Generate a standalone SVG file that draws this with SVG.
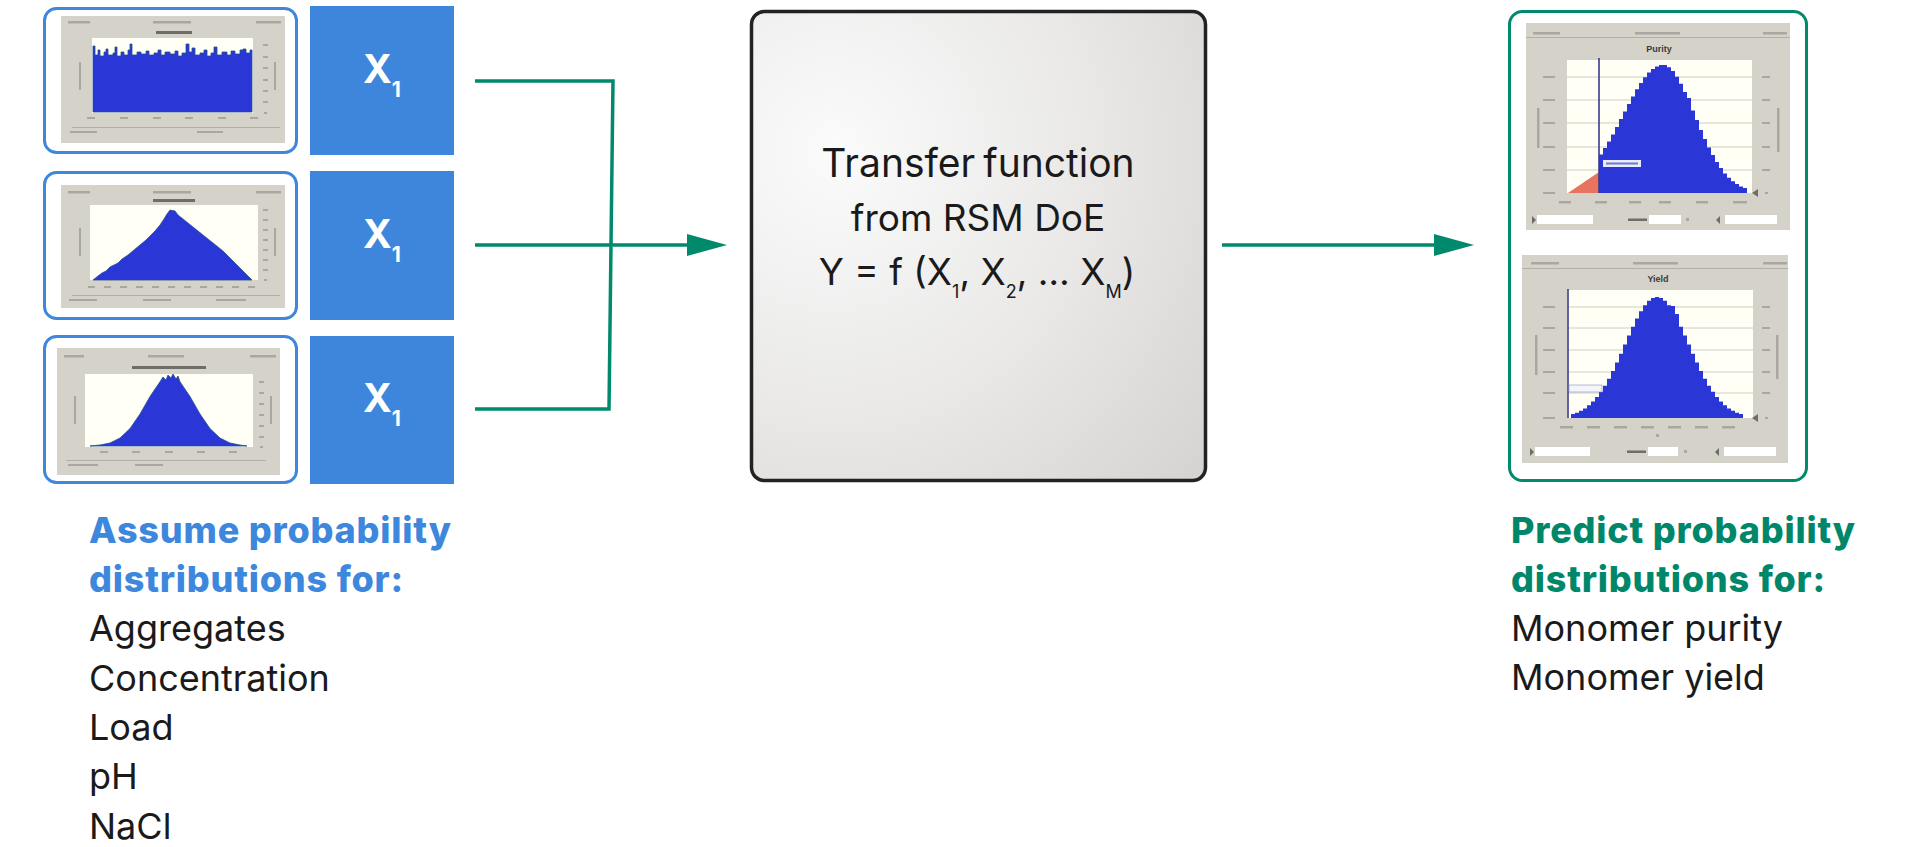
<svg xmlns="http://www.w3.org/2000/svg" width="1920" height="847" viewBox="0 0 1920 847">
  <defs>
    <radialGradient id="boxGrad" cx="0.18" cy="0.3" r="1.05" fx="0.18" fy="0.3">
      <stop offset="0" stop-color="#fbfbfb"/>
      <stop offset="0.55" stop-color="#e9e8e7"/>
      <stop offset="1" stop-color="#d6d4d3"/>
    </radialGradient>
    <marker id="arrow" markerUnits="userSpaceOnUse" markerWidth="40" markerHeight="22" refX="3" refY="11" orient="auto">
      <path d="M0,0 L40,11 L0,22 Z" fill="#00896b"/>
    </marker>
  </defs>
  <style>
    .frameB { fill: #ffffff; stroke: #3f87dd; stroke-width: 3; }
    .frameG { fill: #ffffff; stroke: #00896b; stroke-width: 3; }
    .sq { fill: #3e86db; }
    .xlab { font-family: "Inter", "Liberation Sans", sans-serif; font-weight: 700; fill: #ffffff; }
    .panel { fill: #d5d2ca; }
    .plot { fill: #fffff6; }
    .hist { fill: #2a36d6; }
    .histE { fill: #2a36d6; stroke: #24508a; stroke-width: 0.8; }
    .lbl { fill: #a9a79f; }
    .dk { fill: #6f6d68; }
    .grid { stroke: #c4c2b6; stroke-width: 0.8; fill: none; }
    .inp { fill: #ffffff; }
    .conn { fill: none; stroke: #00896b; stroke-width: 3.5; }
    .body { font-family: "Inter", "Liberation Sans", sans-serif; font-size: 36px; fill: #1a1a1a; }
    .headB { font-family: "Inter", "Liberation Sans", sans-serif; font-size: 36px; font-weight: 800; letter-spacing: 0.8px; fill: #3d87dc; }
    .headG { font-family: "Inter", "Liberation Sans", sans-serif; font-size: 36px; font-weight: 800; letter-spacing: 0.8px; fill: #00876a; }
    .ctr { font-family: "Inter", "Liberation Sans", sans-serif; font-size: 37px; fill: #1a1a1a; }
    .ctr1 { font-size: 39px; word-spacing: -3px; }
    .ctitle { font-family: "Liberation Sans", sans-serif; font-size: 9px; font-weight: 700; fill: #3a3a3a; }
  </style>

  <!-- Input distribution 1 -->
  <g id="input-chart-1">
    <rect class="frameB" x="44.5" y="8.5" width="252" height="144" rx="12"/>
    <rect class="panel" x="61" y="16" width="224" height="127"/>
    <rect class="lbl" x="68" y="21" width="22" height="2.5"/>
    <rect class="lbl" x="153" y="21" width="38" height="2.5"/>
    <rect class="lbl" x="256" y="21" width="25" height="2.5"/>
    <rect class="dk" x="156" y="31" width="36" height="3"/>
    <rect class="plot" x="92" y="38" width="161" height="75"/>
    <path class="histE" d="M93,112 V46 H95 V55 H98 V50 H100 V56 H104 V52 H106 V49 H108 V55 H113 V53 H115 V47 H117 V56 H121 V52 H124 V55 H128 V50 H130 V44 H132 V55 H137 V52 H141 V54 H146 V51 H149 V55 H154 V53 H158 V50 H161 V55 H165 V52 H170 V54 H175 V51 H178 V56 H182 V53 H186 V44 H189 V52 H192 V48 H195 V55 H200 V53 H204 V50 H207 V56 H211 V53 H214 V47 H217 V55 H222 V52 H227 V55 H231 V51 H235 V54 H240 V50 H243 V49 H246 V53 H250 V50 H252 V112 Z"/>
    <rect class="lbl" x="79" y="62" width="2" height="28"/>
    <rect class="lbl" x="274" y="62" width="2" height="28"/>
    <rect class="lbl" x="263" y="44" width="5" height="2"/>
    <rect class="lbl" x="263" y="56" width="5" height="2"/>
    <rect class="lbl" x="263" y="67" width="5" height="2"/>
    <rect class="lbl" x="263" y="79" width="5" height="2"/>
    <rect class="lbl" x="263" y="90" width="5" height="2"/>
    <rect class="lbl" x="263" y="101" width="5" height="2"/>
    <rect class="lbl" x="264" y="112" width="3" height="2"/>
    <rect class="lbl" x="87" y="117" width="8" height="2"/>
    <rect class="lbl" x="120" y="117" width="8" height="2"/>
    <rect class="lbl" x="153" y="117" width="8" height="2"/>
    <rect class="lbl" x="185" y="117" width="8" height="2"/>
    <rect class="lbl" x="218" y="117" width="8" height="2"/>
    <rect class="lbl" x="250" y="117" width="8" height="2"/>
    <rect class="lbl" x="72" y="127" width="208" height="0.8"/>
    <rect class="lbl" x="70" y="131" width="27" height="2"/>
    <rect class="lbl" x="197" y="131" width="26" height="2"/>
  </g>

  <!-- Input distribution 2 -->
  <g id="input-chart-2">
    <rect class="frameB" x="44.5" y="172.5" width="252" height="146" rx="12"/>
    <rect class="panel" x="61" y="185" width="224" height="123"/>
    <rect class="lbl" x="68" y="191" width="22" height="2.5"/>
    <rect class="lbl" x="153" y="191" width="38" height="2.5"/>
    <rect class="lbl" x="256" y="191" width="25" height="2.5"/>
    <rect class="dk" x="153" y="199" width="42" height="3"/>
    <rect class="plot" x="90" y="205" width="168" height="75"/>
    <path class="histE" d="M93,280 L98,276 L102,273 L106,271 L110,267 L114,265 L118,263 L122,259 L128,255 L134,250 L140,245 L146,240 L150,236 L155,231 L160,225 L164,219 L167,214 L170,210 L175,211 L178,215 L183,219 L188,223 L193,227 L198,231 L203,235 L208,239 L213,243 L218,247 L223,251 L228,256 L233,261 L238,266 L243,271 L248,276 L252,280 Z"/>
    <rect class="lbl" x="79" y="228" width="2" height="28"/>
    <rect class="lbl" x="274" y="228" width="2" height="28"/>
    <rect class="lbl" x="263" y="209" width="5" height="2"/>
    <rect class="lbl" x="263" y="219" width="5" height="2"/>
    <rect class="lbl" x="263" y="229" width="5" height="2"/>
    <rect class="lbl" x="263" y="239" width="5" height="2"/>
    <rect class="lbl" x="263" y="249" width="5" height="2"/>
    <rect class="lbl" x="263" y="259" width="5" height="2"/>
    <rect class="lbl" x="263" y="269" width="5" height="2"/>
    <rect class="lbl" x="264" y="279" width="3" height="2"/>
    <rect class="lbl" x="88" y="286" width="7" height="2"/>
    <rect class="lbl" x="104" y="286" width="7" height="2"/>
    <rect class="lbl" x="120" y="286" width="7" height="2"/>
    <rect class="lbl" x="136" y="286" width="7" height="2"/>
    <rect class="lbl" x="152" y="286" width="7" height="2"/>
    <rect class="lbl" x="168" y="286" width="7" height="2"/>
    <rect class="lbl" x="184" y="286" width="7" height="2"/>
    <rect class="lbl" x="200" y="286" width="7" height="2"/>
    <rect class="lbl" x="216" y="286" width="7" height="2"/>
    <rect class="lbl" x="232" y="286" width="7" height="2"/>
    <rect class="lbl" x="248" y="286" width="7" height="2"/>
    <rect class="lbl" x="72" y="295" width="208" height="0.8"/>
    <rect class="lbl" x="69" y="299" width="28" height="2"/>
    <rect class="lbl" x="143" y="299" width="28" height="2"/>
    <rect class="lbl" x="216" y="299" width="30" height="2"/>
  </g>

  <!-- Input distribution 3 -->
  <g id="input-chart-3">
    <rect class="frameB" x="44.5" y="336.5" width="252" height="146" rx="12"/>
    <rect class="panel" x="57" y="348" width="223" height="127"/>
    <rect class="lbl" x="64" y="355" width="20" height="2.5"/>
    <rect class="lbl" x="148" y="355" width="36" height="2.5"/>
    <rect class="lbl" x="250" y="355" width="26" height="2.5"/>
    <rect class="dk" x="132" y="366" width="74" height="3"/>
    <rect class="plot" x="85" y="374" width="168" height="73"/>
    <path class="histE" d="M90,446 L100,445 L110,443 L120,438 L130,428.6 L140,414 L150,396.5 L155,389 L160,381.8 L163,377 L166,380 L168,375 L171,378 L173,374 L176,379 L178,376 L180,381.8 L190,396.5 L200,414 L210,428.6 L220,438 L230,443 L240,445 L247,446 Z"/>
    <rect class="lbl" x="74" y="396" width="2" height="28"/>
    <rect class="lbl" x="270" y="396" width="2" height="28"/>
    <rect class="lbl" x="259" y="381" width="5" height="2"/>
    <rect class="lbl" x="259" y="392" width="5" height="2"/>
    <rect class="lbl" x="259" y="403" width="5" height="2"/>
    <rect class="lbl" x="259" y="414" width="5" height="2"/>
    <rect class="lbl" x="259" y="425" width="5" height="2"/>
    <rect class="lbl" x="259" y="436" width="5" height="2"/>
    <rect class="lbl" x="260" y="446" width="3" height="2"/>
    <rect class="lbl" x="100" y="451" width="8" height="2"/>
    <rect class="lbl" x="132" y="451" width="8" height="2"/>
    <rect class="lbl" x="165" y="451" width="8" height="2"/>
    <rect class="lbl" x="197" y="451" width="8" height="2"/>
    <rect class="lbl" x="229" y="451" width="8" height="2"/>
    <rect class="lbl" x="66" y="460" width="200" height="0.8"/>
    <rect class="lbl" x="68" y="464" width="30" height="2"/>
    <rect class="lbl" x="135" y="464" width="28" height="2"/>
  </g>

  <!-- X1 boxes -->
  <g id="x1-box-1">
    <rect class="sq" x="310" y="6" width="144" height="149"/>
    <text class="xlab" x="382" y="83" text-anchor="middle" font-size="39">X<tspan font-size="21" dy="14">1</tspan></text>
  </g>
  <g id="x1-box-2">
    <rect class="sq" x="310" y="171" width="144" height="149"/>
    <text class="xlab" x="382" y="248" text-anchor="middle" font-size="39">X<tspan font-size="21" dy="14">1</tspan></text>
  </g>
  <g id="x1-box-3">
    <rect class="sq" x="310" y="336" width="144" height="148"/>
    <text class="xlab" x="382" y="412" text-anchor="middle" font-size="39">X<tspan font-size="21" dy="14">1</tspan></text>
  </g>

  <!-- Transfer function -->
  <g id="transfer-function">
    <rect x="751.5" y="11.5" width="454" height="469" rx="13" fill="url(#boxGrad)" stroke="#222222" stroke-width="3.5"/>
    <text class="ctr ctr1" x="978" y="177" text-anchor="middle">Transfer function</text>
    <text class="ctr" x="978" y="231" text-anchor="middle">from RSM DoE</text>
    <text class="ctr" x="977" y="285" text-anchor="middle">Y = f (X<tspan font-size="18" dy="13">1</tspan><tspan dy="-13">, X</tspan><tspan font-size="18" dy="13">2</tspan><tspan dy="-13">, … X</tspan><tspan font-size="18" dy="13">M</tspan><tspan dy="-13">)</tspan></text>
  </g>

  <!-- Output distributions -->
  <g id="output-charts">
    <rect class="frameG" x="1509.5" y="11.5" width="297" height="469" rx="13"/>
    <!-- Purity -->
    <rect class="panel" x="1526" y="23" width="264" height="207"/>
    <rect class="lbl" x="1533" y="32" width="27" height="2.5"/>
    <rect class="lbl" x="1635" y="32" width="45" height="2.5"/>
    <rect class="lbl" x="1763" y="32" width="24" height="2.5"/>
    <rect class="lbl" x="1526" y="37" width="264" height="0.8"/>
    <text class="ctitle" x="1659" y="52" text-anchor="middle">Purity</text>
    <rect class="plot" x="1567" y="60" width="185" height="133"/>
    <path class="grid" d="M1567,77 H1752 M1567,100 H1752 M1567,123 H1752 M1567,147 H1752 M1567,170 H1752"/>
    <polygon points="1568,193 1599,172 1599,193" fill="#e8735e"/>
    <path class="hist" d="M1599,193 V154.5 H1603 V148 H1607 V141.5 H1611 V134.4 H1615 V127 H1619 V119 H1623 V111.5 H1627 V104 H1631 V96.4 H1635 V89.3 H1639 V83 H1643 V77.3 H1647 V72.6 H1651 V69 H1655 V66.4 H1659 V65 H1667 V67.2 H1671 V71 H1675 V76.7 H1679 V83.7 H1683 V92 H1687 V98 H1691 V110.5 H1695 V120 H1699 V130 H1703 V139 H1707 V147.4 H1711 V155 H1715 V162 H1719 V168 H1723 V173.4 H1727 V177.7 H1731 V181.3 H1735 V184 H1739 V186.4 H1743 V188 H1747 V193 Z"/>
    <line x1="1599" y1="58" x2="1599" y2="193" stroke="#3a3a8c" stroke-width="1.6"/>
    <rect x="1603" y="160" width="38" height="7" fill="#ffffff" opacity="0.9"/>
    <rect x="1606" y="162.5" width="32" height="2" fill="#6a78d8"/>
    <rect class="lbl" x="1543" y="76" width="12" height="2"/>
    <rect class="lbl" x="1543" y="99" width="12" height="2"/>
    <rect class="lbl" x="1543" y="122" width="12" height="2"/>
    <rect class="lbl" x="1543" y="146" width="12" height="2"/>
    <rect class="lbl" x="1543" y="169" width="12" height="2"/>
    <rect class="lbl" x="1543" y="192" width="12" height="2"/>
    <rect class="lbl" x="1762" y="76" width="8" height="2"/>
    <rect class="lbl" x="1762" y="99" width="8" height="2"/>
    <rect class="lbl" x="1762" y="122" width="8" height="2"/>
    <rect class="lbl" x="1762" y="146" width="8" height="2"/>
    <rect class="lbl" x="1762" y="169" width="8" height="2"/>
    <rect class="lbl" x="1765" y="192" width="3" height="2"/>
    <rect class="lbl" x="1537" y="108" width="2.5" height="40"/>
    <rect class="lbl" x="1777" y="108" width="2.5" height="44"/>
    <polygon points="1752,193 1758,189 1758,197" class="dk"/>
    <rect class="lbl" x="1559" y="201" width="12" height="2.5"/>
    <rect class="lbl" x="1595" y="201" width="12" height="2.5"/>
    <rect class="lbl" x="1629" y="201" width="12" height="2.5"/>
    <rect class="lbl" x="1659" y="201" width="12" height="2.5"/>
    <rect class="lbl" x="1696" y="201" width="12" height="2.5"/>
    <rect class="lbl" x="1733" y="201" width="14" height="2.5"/>
    <polygon points="1532,216 1536,220 1532,224" class="dk"/>
    <rect class="inp" x="1537" y="215" width="56" height="9"/>
    <rect class="dk" x="1628" y="218.5" width="19" height="2.5"/>
    <rect class="inp" x="1649" y="215" width="32" height="9"/>
    <rect class="lbl" x="1686" y="218" width="3" height="3"/>
    <polygon points="1720,216 1716,220 1720,224" class="dk"/>
    <rect class="inp" x="1725" y="215" width="52" height="9"/>
    <!-- Yield -->
    <rect class="panel" x="1522" y="255" width="266" height="208"/>
    <rect class="lbl" x="1531" y="262" width="28" height="2.5"/>
    <rect class="lbl" x="1633" y="262" width="45" height="2.5"/>
    <rect class="lbl" x="1763" y="262" width="24" height="2.5"/>
    <rect class="lbl" x="1522" y="268" width="266" height="0.8"/>
    <text class="ctitle" x="1658" y="282" text-anchor="middle">Yield</text>
    <rect class="plot" x="1567" y="290" width="186" height="128"/>
    <path class="grid" d="M1567,307 H1753 M1567,328 H1753 M1567,350 H1753 M1567,372 H1753 M1567,393 H1753"/>
    <path class="hist" d="M1571,418 V414 H1575 V412.7 H1579 V410.8 H1583 V408.4 H1587 V405.3 H1591 V401.6 H1595 V397 H1599 V391.8 H1603 V385.7 H1607 V378.7 H1611 V371 H1615 V362.6 H1619 V353.7 H1623 V344.6 H1627 V335.5 H1631 V326.7 H1635 V318.5 H1639 V311.2 H1643 V305.2 H1647 V300.7 H1651 V298 H1655 V297 H1659 V298 H1663 V300.7 H1667 V305.2 H1671 V306 H1675 V314 H1679 V326.7 H1683 V335.5 H1687 V344.6 H1691 V353.7 H1695 V362.6 H1699 V371 H1703 V378.7 H1707 V385.7 H1711 V391.8 H1715 V397 H1719 V401.6 H1723 V405.3 H1727 V408.4 H1731 V410.8 H1735 V412.7 H1739 V414 H1743 V418 Z"/>
    <line x1="1568" y1="289" x2="1568" y2="418" stroke="#3a3a8c" stroke-width="1.6"/>
    <rect x="1569" y="385" width="33" height="7" fill="#f4f4ff" stroke="#8a8ab8" stroke-width="0.6"/>
    <rect class="lbl" x="1543" y="306" width="12" height="2"/>
    <rect class="lbl" x="1543" y="327" width="12" height="2"/>
    <rect class="lbl" x="1543" y="349" width="12" height="2"/>
    <rect class="lbl" x="1543" y="371" width="12" height="2"/>
    <rect class="lbl" x="1543" y="392" width="12" height="2"/>
    <rect class="lbl" x="1543" y="417" width="12" height="2"/>
    <rect class="lbl" x="1762" y="306" width="8" height="2"/>
    <rect class="lbl" x="1762" y="327" width="8" height="2"/>
    <rect class="lbl" x="1762" y="349" width="8" height="2"/>
    <rect class="lbl" x="1762" y="371" width="8" height="2"/>
    <rect class="lbl" x="1762" y="392" width="8" height="2"/>
    <rect class="lbl" x="1765" y="417" width="3" height="2"/>
    <rect class="lbl" x="1535" y="335" width="2.5" height="40"/>
    <rect class="lbl" x="1776" y="335" width="2.5" height="44"/>
    <polygon points="1752,418 1758,414 1758,422" class="dk"/>
    <rect class="lbl" x="1560" y="426" width="13" height="2.5"/>
    <rect class="lbl" x="1587" y="426" width="13" height="2.5"/>
    <rect class="lbl" x="1614" y="426" width="13" height="2.5"/>
    <rect class="lbl" x="1641" y="426" width="13" height="2.5"/>
    <rect class="lbl" x="1668" y="426" width="13" height="2.5"/>
    <rect class="lbl" x="1695" y="426" width="13" height="2.5"/>
    <rect class="lbl" x="1722" y="426" width="13" height="2.5"/>
    <rect class="lbl" x="1656" y="434" width="3" height="3"/>
    <polygon points="1530,448 1534,452 1530,456" class="dk"/>
    <rect class="inp" x="1535" y="447" width="55" height="9"/>
    <rect class="dk" x="1627" y="450.5" width="19" height="2.5"/>
    <rect class="inp" x="1648" y="447" width="30" height="9"/>
    <rect class="lbl" x="1684" y="450" width="3" height="3"/>
    <polygon points="1719,448 1715,452 1719,456" class="dk"/>
    <rect class="inp" x="1724" y="447" width="52" height="9"/>
  </g>

  <!-- Labels -->
  <g id="input-label">
    <text class="headB" x="89" y="543">Assume probability</text>
    <text class="headB" x="89" y="592">distributions for:</text>
    <text class="body" x="89" y="641">Aggregates</text>
    <text class="body" x="89" y="691">Concentration</text>
    <text class="body" x="89" y="740">Load</text>
    <text class="body" x="89" y="789">pH</text>
    <text class="body" x="89" y="839">NaCl</text>
  </g>
  <g id="output-label">
    <text class="headG" x="1511" y="543">Predict probability</text>
    <text class="headG" x="1511" y="592">distributions for:</text>
    <text class="body" x="1511" y="641">Monomer purity</text>
    <text class="body" x="1511" y="690">Monomer yield</text>
  </g>

  <!-- Connectors -->
  <g id="connectors">
    <path class="conn" d="M475,81 H613 L609,409 H475"/>
    <path class="conn" d="M475,245 H690" marker-end="url(#arrow)"/>
    <path class="conn" d="M1222,245 H1437" marker-end="url(#arrow)"/>
  </g>
</svg>
